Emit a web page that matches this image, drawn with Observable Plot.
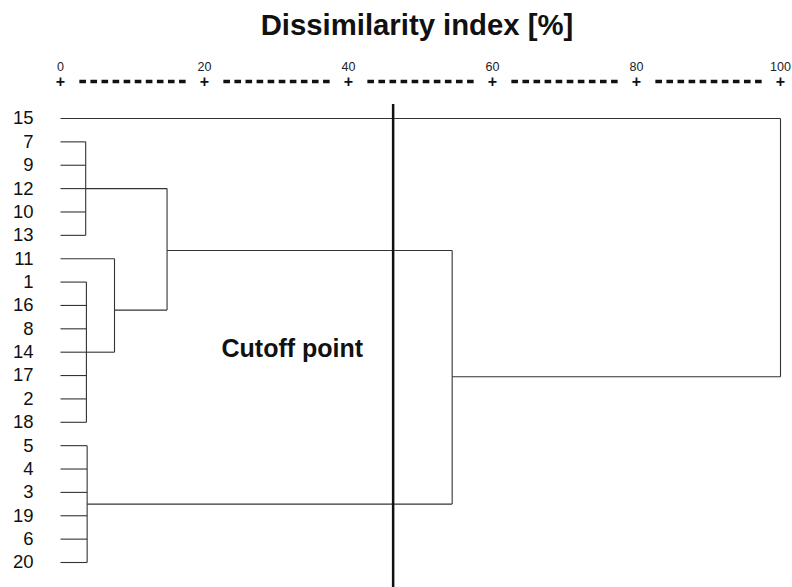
<!DOCTYPE html>
<html><head><meta charset="utf-8">
<script src="https://cdn.jsdelivr.net/npm/d3@7"></script>
<script src="https://cdn.jsdelivr.net/npm/@observablehq/plot@0.6"></script>
<style>body{margin:0;background:#fff;font-family:"Liberation Sans",Arial,sans-serif}</style>
</head><body><div id="chart"></div>
<script>
// Leaves, top to bottom
const leaves = ["15","7","9","12","10","13","11","1","16","8","14","17","2","18","5","4","3","19","6","20"];
// Clusters (merge nodes)
const clusterNames   = ["A", "B1", "C", "B", "AB", "ABC", "Root"];
const clusterHeights = [3.5, 3.6, 3.7, 7.5, 14.8, 54.4, 100];
const clusterRows    = [3, 10, 16.5, 8.2, 5.65, 11.05, 5.5];
const clusterMembers = [
  ["7","9","12","10","13"],
  ["1","16","8","14","17","2","18"],
  ["5","4","3","19","6","20"],
  ["11","B1"],
  ["A","B"],
  ["AB","C"],
  ["15","ABC"]
];
const xTicks = [0, 20, 40, 60, 80, 100];
const cutoff = 46.2;
const cutoffLabel = "Cutoff point";
const cutoffLabelRow = 9.85;
const title = "Dissimilarity index [%]";

const rowOf = new Map(leaves.map((l, i) => [l, i]));
const heightOf = new Map(leaves.map(l => [l, 0]));
clusterNames.forEach((n, i) => { rowOf.set(n, clusterRows[i]); heightOf.set(n, clusterHeights[i]); });
const segments = [];
clusterNames.forEach((n, i) => {
  const h = clusterHeights[i];
  const rows = clusterMembers[i].map(m => rowOf.get(m));
  clusterMembers[i].forEach(m => segments.push({x1: heightOf.get(m), x2: h, y1: rowOf.get(m), y2: rowOf.get(m)}));
  segments.push({x1: h, x2: h, y1: d3.min(rows), y2: d3.max(rows)});
});

const DASH = "6.6,4.477";
const plot = Plot.plot({
  width: 792, height: 587,
  marginTop: 81, marginBottom: 0, marginLeft: 60, marginRight: 12,
  insetTop: 37, insetBottom: 25,
  style: {fontFamily: "Liberation Sans, Arial, sans-serif", background: "#fff"},
  x: {domain: [0, 100], axis: null},
  y: {domain: [0, leaves.length - 1], reverse: true, label: null},
  marks: [
    Plot.frame({anchor: "top", stroke: "#111", strokeWidth: 3.4, strokeLinecap: "butt", strokeDasharray: DASH, strokeDashoffset: 3.3, ariaLabel: "dashaxis"}),
    Plot.dot(xTicks, {x: d => d, frameAnchor: "top", symbol: "square", r: 17.5, fill: "white", stroke: null}),
    Plot.text(xTicks, {x: d => d, text: () => "+", frameAnchor: "top", lineAnchor: "middle", fontSize: 16, fontWeight: "bold", fill: "#111"}),
    Plot.text(xTicks, {x: d => d, text: d => String(d), frameAnchor: "top", lineAnchor: "middle", dy: -14.5, fontSize: 12.5, fill: "#222"}),
    Plot.link(segments, {x1: "x1", y1: "y1", x2: "x2", y2: "y2", stroke: "#333", strokeWidth: 1.1}),
    Plot.ruleX([cutoff], {stroke: "#111", strokeWidth: 2.5, insetTop: 23}),
    Plot.text([cutoffLabel], {x: () => cutoff, y: () => cutoffLabelRow, text: d => d, textAnchor: "end", dx: -30, fontSize: 25, fontWeight: "bold", fill: "#111"}),
    Plot.text([title], {frameAnchor: "top", lineAnchor: "middle", dy: -55.5, dx: -3.5, text: d => d, fontSize: 29.3, fontWeight: "bold", fill: "#111"}),
    Plot.axisY({ticks: leaves.map((_, i) => i), tickFormat: i => leaves[i], tickSize: 0, tickPadding: 27, fontSize: 18.5, color: "#111", label: null})
  ]
});
// make sure the top axis line is dashed
d3.select(plot).selectAll("[aria-label=dashaxis], [aria-label=dashaxis] *")
  .attr("stroke-dasharray", DASH).attr("stroke-dashoffset", 3.3).attr("stroke-linecap", "butt");
document.getElementById("chart").appendChild(plot);
</script>
</body></html>
